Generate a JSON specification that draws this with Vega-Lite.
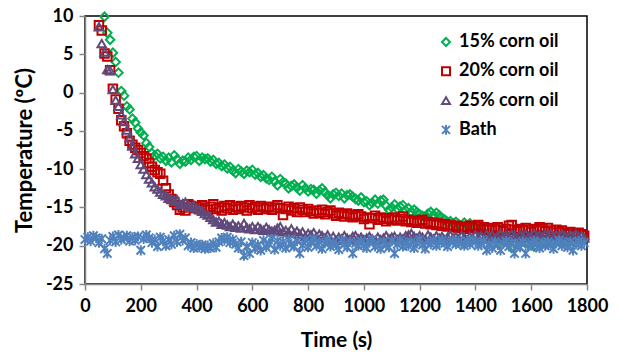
{
"$schema":"https://vega.github.io/schema/vega-lite/v6.json",
"width":502,"height":268,
"autosize":{"type":"none"},
"padding":{"left":85,"top":16,"right":31,"bottom":72},
"background":"white",
"config":{"font":"Lato","view":{"stroke":"#000","strokeWidth":1.5},
"axis":{"domainColor":"#868686","domainWidth":1.5,"tickColor":"#868686","tickWidth":1.5,"tickSize":6,"labelFont":"Lato","labelFontSize":18,"labelFontWeight":"bold","labelColor":"#000","titleFont":"Lato","titleFontSize":21,"titleFontWeight":"bold","titleColor":"#000","grid":false}},
"data":{"values":[
{"t":0,"d":-19.2},{"t":10,"d":-18.9},{"t":20,"d":-19.4},{"t":30,"d":-18.7},{"t":40,"d":-19.0},
{"t":50,"b":8.8,"c":8.6,"d":-19.6},
{"t":60,"b":8.1,"c":6.4,"d":-19.1},
{"t":70,"a":9.9,"b":5.1,"c":5.3,"d":-20.4},
{"t":80,"a":7.8,"b":4.7,"c":3.0,"d":-21.0},
{"t":90,"a":6.9,"b":2.9,"c":2.9,"d":-19.3},
{"t":100,"a":5.2,"b":0.5,"c":0.4,"d":-18.8},
{"t":110,"a":4.0,"b":-0.9,"c":-1.0,"d":-19.5},
{"t":120,"a":2.6,"b":-2.1,"c":-1.8,"d":-18.6},
{"t":130,"a":0.2,"b":-3.6,"c":-2.9,"d":-19.2},
{"t":140,"a":-0.4,"b":-4.4,"c":-3.8,"d":-19.0},
{"t":150,"a":-1.8,"b":-5.3,"c":-4.9,"d":-18.7},
{"t":160,"a":-2.2,"b":-6.3,"c":-5.9,"d":-19.4},
{"t":170,"a":-3.4,"b":-6.8,"c":-7.0,"d":-18.9},
{"t":180,"a":-3.9,"b":-7.2,"c":-8.0,"d":-19.3},
{"t":190,"a":-4.7,"b":-7.5,"c":-8.6,"d":-18.8},
{"t":200,"a":-5.2,"b":-7.9,"c":-9.4,"d":-20.6},
{"t":210,"a":-5.6,"b":-8.3,"c":-10.0,"d":-19.1},
{"t":220,"a":-6.6,"b":-8.6,"c":-10.7,"d":-18.6},
{"t":230,"a":-7.1,"b":-9.2,"c":-11.3,"d":-19.0},
{"t":240,"a":-7.9,"b":-9.7,"c":-11.8,"d":-19.6},
{"t":250,"a":-8.2,"b":-10.1,"c":-12.3,"d":-19.2},
{"t":260,"a":-8.0,"b":-10.4,"c":-12.6,"d":-20.1},
{"t":270,"a":-8.6,"b":-10.6,"c":-13.0,"d":-18.9},
{"t":280,"a":-8.4,"b":-11.5,"c":-13.3,"d":-19.4},
{"t":290,"a":-8.9,"b":-12.5,"c":-13.5,"d":-20.0},
{"t":300,"a":-8.5,"b":-13.3,"c":-13.8,"d":-19.2},
{"t":310,"a":-9.1,"b":-13.9,"c":-13.9,"d":-19.8},
{"t":320,"a":-8.2,"b":-14.3,"c":-14.2,"d":-18.7},
{"t":330,"a":-8.7,"b":-14.7,"c":-14.0,"d":-19.5},
{"t":340,"a":-9.3,"b":-15.3,"c":-14.6,"d":-18.5},
{"t":350,"a":-8.9,"b":-15.0,"c":-14.5,"d":-19.3},
{"t":360,"a":-9.0,"b":-15.4,"c":-14.3,"d":-19.0},
{"t":370,"a":-8.5,"b":-14.6,"c":-14.8,"d":-20.0},
{"t":380,"a":-8.8,"b":-14.8,"c":-15.0,"d":-19.6},
{"t":390,"a":-8.4,"b":-15.1,"c":-14.7,"d":-20.3},
{"t":400,"a":-8.3,"b":-14.9,"c":-15.1,"d":-19.8},
{"t":410,"a":-8.9,"b":-15.2,"c":-15.3,"d":-20.2},
{"t":420,"a":-8.5,"b":-14.7,"c":-15.5,"d":-19.9},
{"t":430,"a":-8.7,"b":-15.0,"c":-15.8,"d":-20.4},
{"t":440,"a":-8.6,"b":-15.3,"c":-16.0,"d":-20.0},
{"t":450,"a":-9.0,"b":-14.9,"c":-16.3,"d":-20.3},
{"t":460,"a":-8.8,"b":-14.6,"c":-16.6,"d":-19.7},
{"t":470,"a":-9.3,"b":-15.2,"c":-16.9,"d":-20.2},
{"t":480,"a":-9.2,"b":-15.0,"c":-16.8,"d":-19.5},
{"t":490,"a":-9.6,"b":-15.4,"c":-17.2,"d":-19.0},
{"t":500,"a":-9.4,"b":-14.8,"c":-17.0,"d":-19.3},
{"t":510,"a":-9.9,"b":-15.1,"c":-17.3,"d":-18.9},
{"t":520,"a":-9.7,"b":-14.7,"c":-17.5,"d":-19.6},
{"t":530,"a":-10.2,"b":-15.3,"c":-17.2,"d":-19.2},
{"t":540,"a":-10.5,"b":-14.9,"c":-17.6,"d":-19.8},
{"t":550,"a":-10.0,"b":-15.2,"c":-17.4,"d":-20.3},
{"t":560,"a":-10.3,"b":-14.8,"c":-17.7,"d":-19.5},
{"t":570,"a":-10.6,"b":-15.0,"c":-17.1,"d":-21.3},
{"t":580,"a":-10.2,"b":-15.4,"c":-17.6,"d":-20.1},
{"t":590,"a":-10.4,"b":-14.7,"c":-17.8,"d":-21.0},
{"t":600,"a":-10.1,"b":-15.1,"c":-17.5,"d":-19.6},
{"t":610,"a":-10.7,"b":-14.9,"c":-17.9,"d":-20.4},
{"t":620,"a":-10.5,"b":-15.3,"c":-17.5,"d":-19.9},
{"t":630,"a":-11.0,"b":-14.8,"c":-17.8,"d":-20.6},
{"t":640,"a":-10.8,"b":-15.0,"c":-18.0,"d":-19.3},
{"t":650,"a":-11.2,"b":-15.2,"c":-17.6,"d":-20.2},
{"t":660,"a":-11.4,"b":-14.9,"c":-17.9,"d":-19.7},
{"t":670,"a":-11.0,"b":-15.3,"c":-18.1,"d":-19.1},
{"t":680,"a":-11.6,"b":-15.0,"c":-18.0,"d":-20.5},
{"t":690,"a":-12.1,"b":-14.7,"c":-17.7,"d":-19.4},
{"t":700,"a":-11.3,"b":-15.1,"c":-17.5,"d":-20.0},
{"t":710,"a":-11.7,"b":-16.0,"c":-18.2,"d":-19.5},
{"t":720,"a":-11.9,"b":-15.2,"c":-18.0,"d":-20.3},
{"t":730,"a":-12.5,"b":-14.9,"c":-18.3,"d":-19.2},
{"t":740,"a":-12.2,"b":-15.4,"c":-17.8,"d":-19.8},
{"t":750,"a":-12.0,"b":-15.1,"c":-18.4,"d":-20.1},
{"t":760,"a":-12.4,"b":-15.6,"c":-18.1,"d":-19.4},
{"t":770,"a":-12.8,"b":-15.0,"c":-18.5,"d":-21.0},
{"t":780,"a":-12.1,"b":-15.3,"c":-18.2,"d":-19.9},
{"t":790,"a":-12.5,"b":-15.6,"c":-18.8,"d":-19.3},
{"t":800,"a":-12.9,"b":-15.2,"c":-18.4,"d":-20.2},
{"t":810,"a":-12.6,"b":-15.5,"c":-18.6,"d":-19.6},
{"t":820,"a":-12.7,"b":-15.8,"c":-18.3,"d":-19.1},
{"t":830,"a":-13.2,"b":-15.4,"c":-18.9,"d":-20.0},
{"t":840,"a":-12.8,"b":-15.7,"c":-18.5,"d":-19.5},
{"t":850,"a":-12.5,"b":-15.3,"c":-18.7,"d":-20.4},
{"t":860,"a":-13.0,"b":-15.9,"c":-19.0,"d":-19.7},
{"t":870,"a":-13.4,"b":-15.6,"c":-18.6,"d":-19.2},
{"t":880,"a":-13.8,"b":-15.4,"c":-19.2,"d":-20.1},
{"t":890,"a":-13.3,"b":-15.8,"c":-18.8,"d":-19.6},
{"t":900,"a":-13.1,"b":-16.1,"c":-19.3,"d":-19.9},
{"t":910,"a":-13.5,"b":-15.7,"c":-18.9,"d":-20.5},
{"t":920,"a":-13.2,"b":-15.9,"c":-19.1,"d":-19.3},
{"t":930,"a":-13.8,"b":-16.2,"c":-18.7,"d":-19.8},
{"t":940,"a":-13.4,"b":-15.8,"c":-19.0,"d":-20.2},
{"t":950,"a":-13.3,"b":-16.0,"c":-19.2,"d":-19.5},
{"t":960,"a":-13.6,"b":-16.3,"c":-18.8,"d":-21.0},
{"t":970,"a":-13.9,"b":-16.1,"c":-18.7,"d":-19.7},
{"t":980,"a":-14.1,"b":-15.9,"c":-19.1,"d":-20.0},
{"t":990,"a":-13.7,"b":-16.2,"c":-18.9,"d":-19.4},
{"t":1000,"a":-14.3,"b":-16.5,"c":-19.2,"d":-19.9},
{"t":1010,"a":-14.2,"b":-16.3,"c":-19.0,"d":-20.3},
{"t":1020,"a":-14.7,"b":-17.2,"c":-18.8,"d":-19.6},
{"t":1030,"a":-14.4,"b":-16.4,"c":-19.1,"d":-19.2},
{"t":1040,"a":-14.0,"b":-16.1,"c":-19.3,"d":-20.1},
{"t":1050,"a":-14.5,"b":-16.6,"c":-18.9,"d":-19.7},
{"t":1060,"a":-14.1,"b":-16.3,"c":-19.2,"d":-20.4},
{"t":1070,"a":-14.0,"b":-16.5,"c":-19.0,"d":-19.5},
{"t":1080,"a":-14.8,"b":-16.8,"c":-18.7,"d":-19.9},
{"t":1090,"a":-15.3,"b":-16.4,"c":-19.1,"d":-20.2},
{"t":1100,"a":-15.0,"b":-16.6,"c":-18.9,"d":-19.4},
{"t":1110,"a":-14.6,"b":-16.3,"c":-18.8,"d":-21.0},
{"t":1120,"a":-15.2,"b":-16.7,"c":-19.2,"d":-19.8},
{"t":1130,"a":-14.9,"b":-16.5,"c":-18.9,"d":-19.3},
{"t":1140,"a":-14.7,"b":-16.2,"c":-19.1,"d":-20.1},
{"t":1150,"a":-15.4,"b":-16.8,"c":-18.7,"d":-19.6},
{"t":1160,"a":-15.1,"b":-16.6,"c":-18.6,"d":-20.0},
{"t":1170,"a":-15.6,"b":-16.9,"c":-18.4,"d":-19.5},
{"t":1180,"a":-15.3,"b":-16.7,"c":-18.8,"d":-20.3},
{"t":1190,"a":-15.6,"b":-17.0,"c":-19.0,"d":-19.7},
{"t":1200,"a":-15.9,"b":-16.8,"c":-18.7,"d":-19.2},
{"t":1210,"a":-16.1,"b":-16.6,"c":-18.9,"d":-19.9},
{"t":1220,"a":-16.2,"b":-17.1,"c":-19.2,"d":-20.4},
{"t":1230,"a":-15.8,"b":-16.9,"c":-18.6,"d":-19.5},
{"t":1240,"a":-15.6,"b":-17.2,"c":-18.9,"d":-19.8},
{"t":1250,"a":-16.0,"b":-17.0,"c":-19.1,"d":-19.3},
{"t":1260,"a":-15.7,"b":-17.3,"c":-18.7,"d":-20.0},
{"t":1270,"a":-16.0,"b":-17.1,"c":-19.0,"d":-19.6},
{"t":1280,"a":-16.4,"b":-17.4,"c":-18.8,"d":-19.2},
{"t":1290,"a":-16.6,"b":-17.2,"c":-19.2,"d":-19.7},
{"t":1300,"a":-16.9,"b":-17.5,"c":-18.9,"d":-20.1},
{"t":1310,"a":-16.8,"b":-17.3,"c":-18.6,"d":-19.5},
{"t":1320,"a":-17.1,"b":-17.6,"c":-19.0,"d":-19.3},
{"t":1330,"a":-16.9,"b":-17.4,"c":-18.8,"d":-19.8},
{"t":1340,"a":-17.2,"b":-17.7,"c":-19.1,"d":-19.4},
{"t":1350,"a":-17.4,"b":-17.5,"c":-18.7,"d":-19.7},
{"t":1360,"a":-17.0,"b":-17.8,"c":-18.9,"d":-20.0},
{"t":1370,"a":-17.3,"b":-17.6,"c":-19.2,"d":-19.4},
{"t":1380,"a":-17.1,"b":-17.4,"c":-18.8,"d":-19.8},
{"t":1390,"a":-17.6,"b":-17.7,"c":-19.0,"d":-19.3},
{"t":1400,"a":-17.8,"b":-17.5,"c":-18.6,"d":-19.5},
{"t":1410,"a":-18.0,"b":-17.3,"c":-18.9,"d":-20.0},
{"t":1420,"a":-17.9,"b":-17.8,"c":-18.7,"d":-19.6},
{"t":1430,"a":-18.3,"b":-17.6,"c":-19.1,"d":-19.4},
{"t":1440,"a":-18.6,"b":-17.9,"c":-18.5,"d":-20.6},
{"t":1450,"a":-18.4,"b":-17.7,"c":-18.8,"d":-19.8},
{"t":1460,"a":-18.8,"b":-18.0,"c":-18.6,"d":-20.3},
{"t":1470,"a":-19.0,"b":-17.8,"c":-19.0,"d":-19.5},
{"t":1480,"a":-18.7,"b":-17.6,"c":-18.7,"d":-19.9},
{"t":1490,"a":-19.2,"b":-17.9,"c":-18.4,"d":-20.6},
{"t":1500,"a":-19.1,"b":-18.1,"c":-18.8,"d":-19.7},
{"t":1510,"a":-19.4,"b":-17.8,"c":-18.6,"d":-19.4},
{"t":1520,"a":-19.6,"b":-17.4,"c":-18.9,"d":-20.1},
{"t":1530,"a":-20.3,"b":-17.3,"c":-18.5,"d":-19.6},
{"t":1540,"a":-19.5,"b":-17.9,"c":-18.7,"d":-21.0},
{"t":1550,"a":-19.3,"b":-18.1,"c":-19.0,"d":-19.8},
{"t":1560,"a":-19.7,"b":-17.8,"c":-18.6,"d":-20.2},
{"t":1570,"a":-19.4,"b":-18.0,"c":-18.8,"d":-19.5},
{"t":1580,"a":-19.6,"b":-17.7,"c":-18.5,"d":-21.0},
{"t":1590,"a":-19.8,"b":-17.9,"c":-18.9,"d":-19.7},
{"t":1600,"a":-19.5,"b":-18.2,"c":-18.7,"d":-20.0},
{"t":1610,"a":-20.1,"b":-17.8,"c":-18.4,"d":-19.4},
{"t":1620,"a":-19.6,"b":-18.0,"c":-18.8,"d":-19.8},
{"t":1630,"a":-19.4,"b":-17.6,"c":-18.6,"d":-20.3},
{"t":1640,"a":-19.7,"b":-17.8,"c":-18.9,"d":-19.6},
{"t":1650,"a":-19.5,"b":-18.1,"c":-18.5,"d":-20.0},
{"t":1660,"a":-19.3,"b":-17.7,"c":-18.7,"d":-19.5},
{"t":1670,"a":-19.6,"b":-18.0,"c":-18.4,"d":-19.9},
{"t":1680,"a":-19.4,"b":-18.3,"c":-18.8,"d":-20.4},
{"t":1690,"a":-19.2,"b":-17.9,"c":-18.6,"d":-19.7},
{"t":1700,"a":-19.5,"b":-18.2,"c":-18.9,"d":-19.3},
{"t":1710,"a":-19.3,"b":-18.0,"c":-18.5,"d":-20.0},
{"t":1720,"a":-19.6,"b":-18.3,"c":-18.7,"d":-19.6},
{"t":1730,"a":-19.4,"b":-18.5,"c":-18.9,"d":-20.2},
{"t":1740,"a":-19.2,"b":-18.2,"c":-18.6,"d":-19.5},
{"t":1750,"a":-19.5,"b":-18.4,"c":-18.8,"d":-20.6},
{"t":1760,"a":-19.3,"b":-18.6,"c":-18.5,"d":-19.8},
{"t":1770,"a":-19.1,"b":-18.3,"c":-18.9,"d":-19.4},
{"t":1780,"a":-19.4,"b":-18.5,"c":-18.7,"d":-20.0},
{"t":1790,"a":-19.2,"b":-18.7,"c":-19.0,"d":-19.6}
]},
"transform":[{"fold":["a","b","c","d"],"as":["k","T"]}],
"mark":{"type":"point","filled":false,"clip":false,"opacity":1},
"encoding":{
"x":{"field":"t","type":"quantitative","scale":{"domain":[0,1800],"nice":false},
 "axis":{"title":"Time (s)","values":[0,200,400,600,800,1000,1200,1400,1600,1800],"labelExpr":"datum.value + ''","labelPadding":7,"titlePadding":14,"labelFlush":false}},
"y":{"field":"T","type":"quantitative","scale":{"domain":[-25,10],"nice":false},
 "axis":{"title":"Temperature (ºC)","titleFontSize":22,"values":[-25,-20,-15,-10,-5,0,5,10],"labelExpr":"datum.value + ''","labelPadding":6,"titlePadding":9}},
"color":{"field":"k","type":"nominal","scale":{"domain":["a","b","c","d"],"range":["#00B050","#C00000","#604A7B","#4F81BD"]},
 "legend":{"title":null,"orient":"none","legendX":352,"legendY":17,"padding":0,"labelFont":"Lato","labelFontSize":18,"labelFontWeight":"bold","labelColor":"#000","symbolSize":64,"symbolStrokeWidth":2.2,"rowPadding":11.3,"labelOffset":4,
 "labelExpr":"datum.label == 'a' ? '15% corn oil' : datum.label == 'b' ? '20% corn oil' : datum.label == 'c' ? '25% corn oil' : 'Bath'"}},
"shape":{"field":"k","type":"nominal","scale":{"domain":["a","b","c","d"],"range":["diamond","square","triangle-up","M-1,-1L1,1M-1,1L1,-1M0,-1.2L0,1.2"]}},
"strokeWidth":{"field":"k","type":"ordinal","scale":{"domain":["a","b","c","d"],"range":[2,2,2,2.8]},"legend":null},
"size":{"value":72},
"order":{"field":"k","sort":"ascending"}
}
}
